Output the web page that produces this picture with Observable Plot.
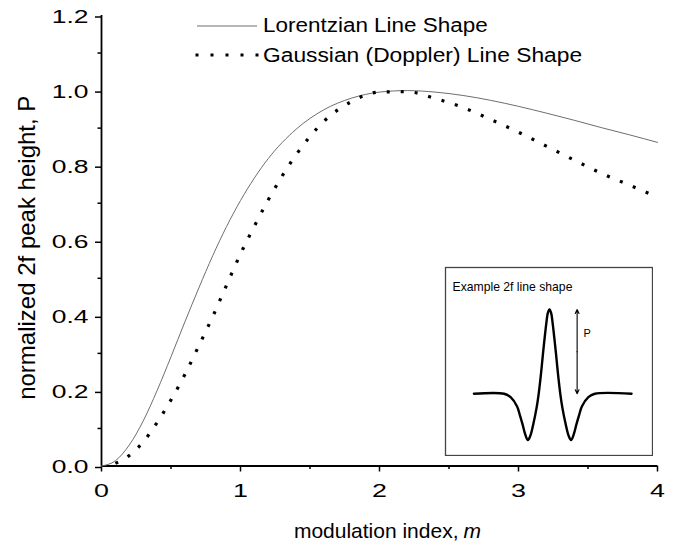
<!DOCTYPE html>
<html><head><meta charset="utf-8">
<script src="https://cdn.jsdelivr.net/npm/d3@7"></script>
<script src="https://cdn.jsdelivr.net/npm/@observablehq/plot@0.6"></script>
<style>
html,body{margin:0;padding:0;background:#fff;}
#wrap{position:relative;width:674px;height:549px;font-family:"Liberation Sans",Arial,sans-serif;}
#wrap svg{display:block;}
</style></head><body><div id="wrap"></div>
<script>
// ---- data ----
const seriesNames = ["Lorentzian Line Shape", "Gaussian (Doppler) Line Shape"];
const mLorentz = [0,0.1,0.2,0.3,0.4,0.5,0.6,0.7,0.8,0.9,1.0,1.2,1.4,1.6,1.8,2.0,2.2,2.4,2.6,2.8,3.0,3.2,3.4,3.6,3.8,4.0];
const lorentzian = [0,0.014,0.056,0.120,0.201,0.291,0.384,0.474,0.560,0.638,0.707,0.819,0.897,0.949,0.980,0.996,1.000,0.996,0.987,0.974,0.958,0.940,0.921,0.901,0.882,0.862];
const mGauss = [0.1,0.2,0.3,0.4,0.5,0.6,0.7,0.8,0.9,1.0,1.1,1.2,1.4,1.6,1.8,2.0,2.2,2.4,2.6,2.8,3.0,3.2,3.4,3.6,3.8,4.0];
const gaussian = [0.007,0.028,0.064,0.116,0.176,0.244,0.320,0.398,0.482,0.565,0.639,0.709,0.829,0.918,0.971,0.996,0.997,0.979,0.955,0.923,0.889,0.852,0.815,0.779,0.748,0.716];
const yTicks = [0,0.2,0.4,0.6,0.8,1.0,1.2];
const yMinor = [0.1,0.3,0.5,0.7,0.9,1.1];
const xTicks = [0,1,2,3,4];
const xMinor = [0.5,1.5,2.5,3.5];
const xLabel = "modulation index,";
const xLabelVar = "m";
const yLabel = "normalized 2f peak height, P";
// inset: example 2f line shape (arbitrary units)
const insetTitle = "Example 2f line shape";
const insetMarker = "P";
const insetX = [-7.0,-4.2,-3.6,-3.0,-2.75,-2.5,-2.25,-2.0,-1.75,-1.5,-1.2,-1.0,-0.8,-0.6,-0.45,-0.3,-0.15,0,0.15,0.3,0.45,0.6,0.8,1.0,1.2,1.5,1.75,2.0,2.25,2.5,2.75,3.0,3.6,4.2,7.6];
const insetY = [0,0,-0.04,-0.15,-0.25,-0.36,-0.48,-0.55,-0.49,-0.36,-0.17,0,0.22,0.48,0.66,0.83,0.96,1,0.96,0.83,0.66,0.48,0.22,0,-0.17,-0.36,-0.49,-0.55,-0.48,-0.36,-0.25,-0.15,-0.04,0,0];
const insetArrowX = 2.56;

const FONT = "'Liberation Sans', Arial, sans-serif";
const SVGNS = "http://www.w3.org/2000/svg";
const lData = mLorentz.map((m, i) => ({m, p: lorentzian[i]}));
const gData = mGauss.map((m, i) => ({m, p: gaussian[i]}));
const inData = insetX.map((x, i) => ({x, y: insetY[i]}));
const peakTop = d3.max(insetY), peakBase = insetY[0], peakMid = (peakTop + peakBase) / 2;
const arrowData = [{x: insetArrowX, from: peakMid, to: peakTop}, {x: insetArrowX, from: peakMid, to: peakBase}];

// widen glyphs (the reference lettering is stretched), keeping each text's anchor fixed
function stretch(root, sel, k, vertical) {
  root.querySelectorAll(sel).forEach(t => {
    const g = document.createElementNS(SVGNS, "g");
    t.parentNode.insertBefore(g, t);
    g.appendChild(t);
    const b = g.getBBox();
    if (vertical) {
      const cy = b.y + b.height / 2;
      g.setAttribute("transform", `translate(0,${cy}) scale(1,${k}) translate(0,${-cy})`);
    } else {
      const anchor = getComputedStyle(t).getPropertyValue("text-anchor");
      const ax = anchor === "end" ? b.x + b.width : anchor === "middle" ? b.x + b.width / 2 : b.x;
      g.setAttribute("transform", `translate(${ax},0) scale(${k},1) translate(${-ax},0)`);
    }
  });
}

const wrap = document.getElementById("wrap");

const main = Plot.plot({
  width: 674, height: 549,
  marginLeft: 101, marginRight: 17, marginTop: 15, marginBottom: 83.5,
  x: {domain: [0, 4]},
  y: {domain: [0, 1.2]},
  style: {fontFamily: FONT, color: "#000", background: "transparent", overflow: "visible"},
  marks: [
    Plot.axisY(yTicks, {tickSize: 6, tickPadding: 7, tickFormat: d3.format(".1f"), fontSize: 18.5, label: null, strokeWidth: 1.5, dy: 1.5}),
    Plot.axisY(yMinor, {tickSize: 3.5, text: null, label: null, strokeWidth: 1.5}),
    Plot.axisX(xTicks, {tickSize: 6, tickPadding: 12, tickFormat: d3.format("d"), fontSize: 18.5, label: null, strokeWidth: 1.5}),
    Plot.axisX(xMinor, {tickSize: 3.5, text: null, label: null, strokeWidth: 1.5}),
    Plot.ruleX([0], {strokeWidth: 1.8}),
    Plot.ruleY([0], {strokeWidth: 1.8}),
    Plot.line(lData, {x: "m", y: "p", stroke: "#6e6e6e", strokeWidth: 1, curve: "monotone-x"}),
    Plot.line(gData, {x: "m", y: "p", stroke: "#000", strokeWidth: 3.2, strokeDasharray: "3 11", strokeLinecap: "butt", curve: "monotone-x"}),
    Plot.text([yLabel], {text: d => d, frameAnchor: "left", textAnchor: "middle", rotate: -90, dx: -74, dy: 7, fontSize: 24, fill: "#000", ariaLabel: "ylabel"}),
    Plot.text([xLabel], {text: d => d, frameAnchor: "bottom", textAnchor: "end", lineAnchor: "top", dx: 79, dy: 57.5, fontSize: 21, fill: "#000", ariaLabel: "xlabel"}),
    Plot.text([xLabelVar], {text: d => d, frameAnchor: "bottom", textAnchor: "start", lineAnchor: "top", dx: 84, dy: 57.5, fontSize: 21, fontStyle: "italic", fill: "#000", ariaLabel: "xlabel"})
  ]
});
wrap.appendChild(main);
stretch(main, 'g[aria-label="y-axis tick label"] text', 1.43);
stretch(main, 'g[aria-label="x-axis tick label"] text', 1.45);
stretch(main, 'g[aria-label="xlabel"] text', 1.15);
stretch(main, 'g[aria-label="ylabel"] text', 1.05, true);

// legend overlay
const leg = d3.create("svg").attr("width", 674).attr("height", 80)
  .style("position", "absolute").style("left", "0px").style("top", "0px");
leg.append("line").attr("x1", 197).attr("x2", 257).attr("y1", 26).attr("y2", 26)
  .attr("stroke", "#6e6e6e").attr("stroke-width", 1);
leg.append("line").attr("x1", 195.5).attr("x2", 259).attr("y1", 55).attr("y2", 55)
  .attr("stroke", "#000").attr("stroke-width", 3.2).attr("stroke-dasharray", "3 12");
[[seriesNames[0], 32, 1.07], [seriesNames[1], 62.3, 1.085]].forEach(([t, y, k]) => {
  leg.append("text").attr("transform", `translate(263,${y}) scale(${k},1)`)
    .attr("font-family", FONT).attr("font-size", 21).attr("fill", "#000").text(t);
});
wrap.appendChild(leg.node());

// inset
const inset = Plot.plot({
  width: 209, height: 190, margin: 1,
  x: {domain: [-9.63, 9.54], axis: null},
  y: {domain: [-0.732, 1.498], axis: null},
  style: {fontFamily: FONT, color: "#000", background: "#fff"},
  marks: [
    Plot.frame({stroke: "#444", strokeWidth: 1.3}),
    Plot.line(inData, {x: "x", y: "y", strokeWidth: 2.4, curve: "catmull-rom"}),
    Plot.arrow(arrowData, {x1: "x", x2: "x", y1: "from", y2: "to", headLength: 6, headAngle: 50, strokeWidth: 1.1, stroke: "#000"}),
    Plot.text([{x: insetArrowX, y: peakMid}], {x: "x", y: "y", text: () => insetMarker, dx: 10, dy: -18, fontSize: 11, fill: "#000"}),
    Plot.text([insetTitle], {text: d => d, frameAnchor: "top-left", dx: 7, dy: 20, fontSize: 12.2, lineAnchor: "middle", fill: "#000", ariaLabel: "insettitle"})
  ]
});
inset.style.position = "absolute";
inset.style.left = "444px";
inset.style.top = "266px";
wrap.appendChild(inset);
stretch(inset, 'g[aria-label="insettitle"] text', 1.09);
</script></body></html>
